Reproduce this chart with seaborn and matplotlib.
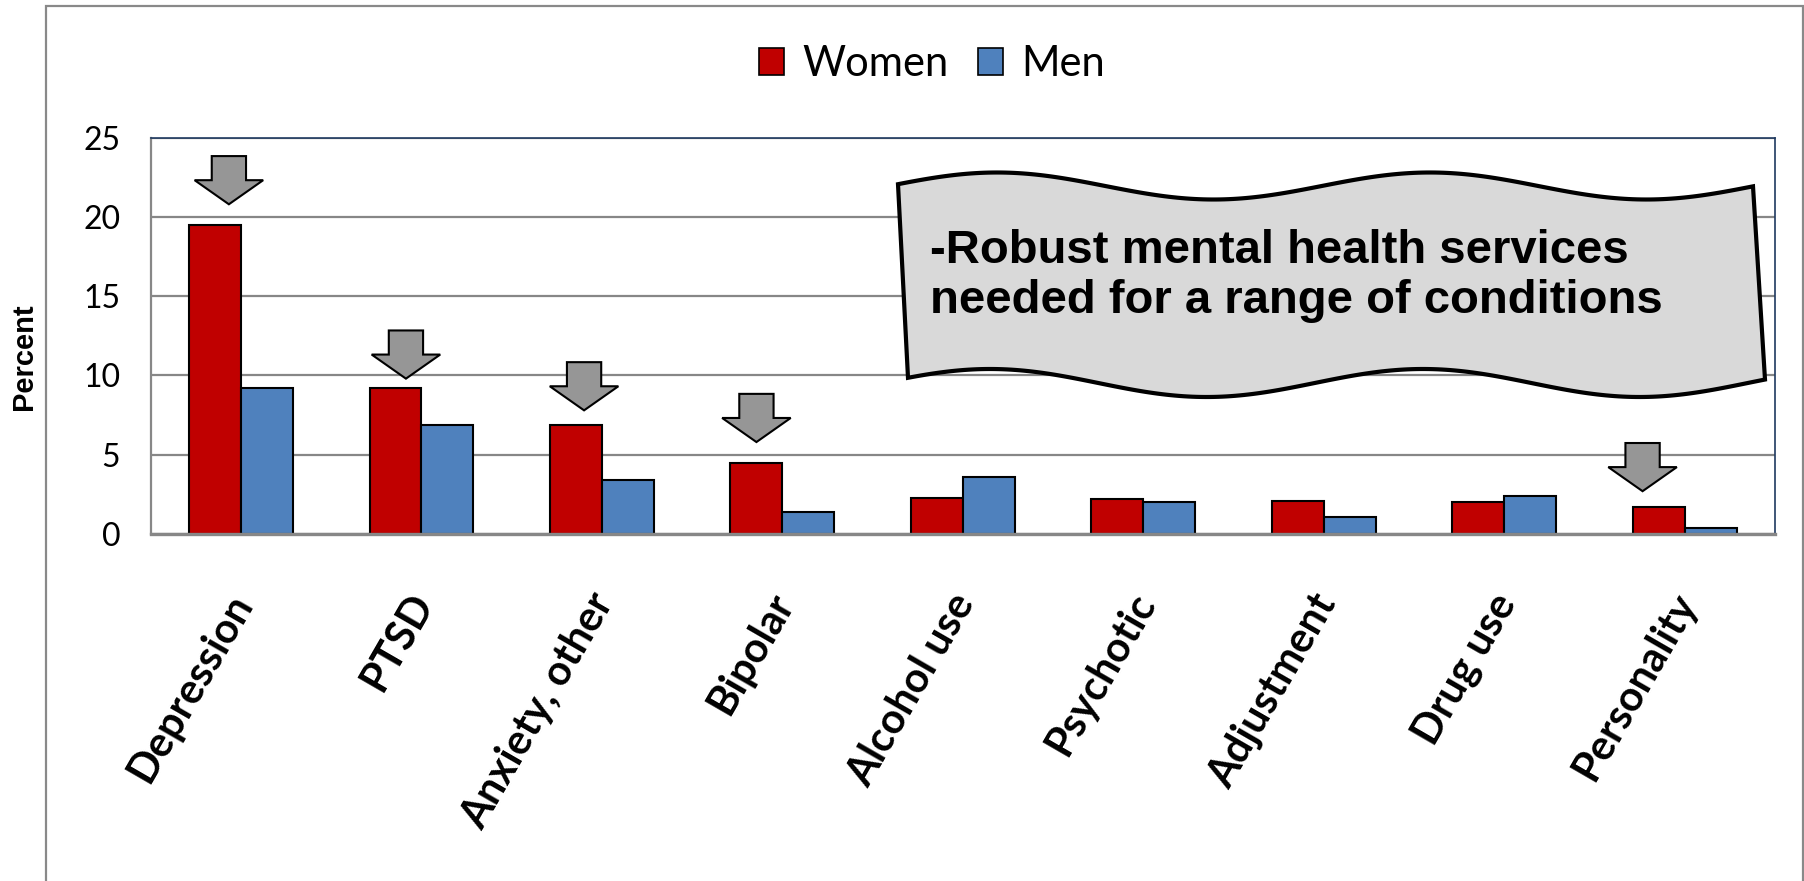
"""
Mental health diagnoses by sex - grouped bar chart with callouts
"""

import numpy as np
import pandas as pd
import matplotlib.pyplot as plt
from matplotlib.patches import Patch, Polygon, Rectangle
from matplotlib.transforms import ScaledTranslation
import seaborn as sns

# Data
conditions = ['Depression', 'PTSD', 'Anxiety, other', 'Bipolar', 'Alcohol use',
              'Psychotic', 'Adjustment', 'Drug use', 'Personality']
women = [19.5, 9.2, 6.9, 4.5, 2.3, 2.2, 2.1, 2.0, 1.7]
men = [9.2, 6.9, 3.4, 1.4, 3.6, 2.0, 1.1, 2.4, 0.4]
highlighted = ['Depression', 'PTSD', 'Anxiety, other', 'Bipolar', 'Personality']
arrow_tips = [20.8, 9.8, 7.8, 5.8, 2.7]
arrow_shift = [0.077, 0.058, 0.045, 0.0, -0.09]  # hand-placed in the original
y_ticks = [0, 5, 10, 15, 20, 25]
callout = '-Robust mental health services\nneeded for a range of conditions'

RED = '#C00000'
BLUE = '#4F81BD'
GRID = '#878787'
NAVY = '#1F3A60'

W, H = 1804, 881


def px(x, y):
    """pixel (top-left origin) -> figure fraction"""
    return x / W, 1 - y / H


df = pd.DataFrame({
    'condition': conditions * 2,
    'percent': women + men,
    'sex': ['Women'] * len(conditions) + ['Men'] * len(conditions),
})

sns.set_style('white')
plt.rcParams['font.family'] = ['Lato', 'DejaVu Sans']
plt.rcParams['text.color'] = 'black'
plt.rcParams['xtick.labelcolor'] = 'black'
plt.rcParams['ytick.labelcolor'] = 'black'

fig = plt.figure(figsize=(W / 100, H / 100), dpi=100)
x0, y1 = px(150.7, 137.7)
x1, y0 = px(1775, 534)
ax = fig.add_axes([x0, y0, x1 - x0, y1 - y0])

sns.barplot(data=df, x='condition', y='percent', hue='sex', order=conditions,
            hue_order=['Women', 'Men'], palette=[RED, BLUE], width=0.575,
            saturation=1, edgecolor='black', linewidth=1.5, legend=False,
            ax=ax, zorder=3)

ax.set_xlim(-0.5, len(conditions) - 0.5)
ax.set_ylim(0, 25)
ax.set_yticks(y_ticks)
ax.set_yticklabels([str(t) for t in y_ticks], fontsize=23)
ax.set_xlabel('')
ax.set_ylabel('')

# gridlines
ax.yaxis.grid(True, color=GRID, linewidth=1.6, zorder=0)
ax.set_axisbelow(True)

# spines
ax.spines['left'].set_color(GRID)
ax.spines['left'].set_linewidth(1.6)
ax.spines['bottom'].set_color(GRID)
ax.spines['bottom'].set_linewidth(2.4)
ax.spines['bottom'].set_zorder(4)
for side in ['top', 'right']:
    ax.spines[side].set_color(NAVY)
    ax.spines[side].set_linewidth(1.2)

ax.tick_params(axis='y', direction='out', length=9, width=1.6, color=GRID, pad=13)

# category labels at centres, tick marks between categories
ax.set_xticks(range(len(conditions)))
ax.set_xticklabels(conditions, rotation=60, ha='right', rotation_mode='anchor',
                   fontsize=30, fontweight='bold')
ax.tick_params(axis='x', which='major', length=0, pad=38)
shift = ScaledTranslation(-14 / 100, 0, fig.dpi_scale_trans)
for lab in ax.get_xticklabels():
    lab.set_transform(lab.get_transform() + shift)
ax.set_xticks(np.arange(-0.5, len(conditions), 1.0), minor=True)
ax.tick_params(axis='x', which='minor', direction='out', length=11, width=1.6,
               color=GRID)

# block arrows above the highlighted conditions
bar_w = 0.575 / 2
for name, tip, dx in zip(highlighted, arrow_tips, arrow_shift):
    cx = conditions.index(name) - bar_w / 2 + dx
    shaft, head = 0.095, 0.19
    seg = 1.52
    pts = [(cx - shaft, tip + 2 * seg), (cx + shaft, tip + 2 * seg),
           (cx + shaft, tip + seg), (cx + head, tip + seg), (cx, tip),
           (cx - head, tip + seg), (cx - shaft, tip + seg)]
    ax.add_patch(Polygon(pts, closed=True, facecolor='#969696',
                         edgecolor='black', linewidth=1.5, zorder=5,
                         clip_on=False))

# wavy callout banner (pixel geometry from the reference)
xs = np.linspace(0, 1, 200)
top_x = 898 + xs * (1753 - 898)
top_y = 186 - 13.5 * np.cos(2 * np.pi * (top_x - 997) / 433)
bot_x = 908 + xs * (1765 - 908)
bot_y = 383 - 14 * np.cos(2 * np.pi * (bot_x - 990) / 433)
outline = [px(x, y) for x, y in zip(top_x, top_y)] + \
          [px(x, y) for x, y in zip(bot_x[::-1], bot_y[::-1])]
fig.add_artist(Polygon(outline, closed=True, facecolor='#D9D9D9',
                       edgecolor='black', linewidth=3, zorder=6,
                       transform=fig.transFigure))
tx, ty = px(930, 276)
fig.text(tx, ty, callout, fontsize=34, fontweight='bold', color='black',
         family=['Liberation Sans', 'DejaVu Sans'], va='center', ha='left',
         linespacing=1.17, zorder=7)

# legend
handles = [Patch(facecolor=RED, edgecolor='black', linewidth=1.2, label='Women'),
           Patch(facecolor=BLUE, edgecolor='black', linewidth=1.2, label='Men')]
lx, ly = px(932, 64)
fig.legend(handles=handles, loc='center', bbox_to_anchor=(lx, ly), ncol=2,
           frameon=False, fontsize=30, handlelength=0.6, handleheight=0.6,
           handletextpad=0.45, columnspacing=0.7)

# y-axis title
tx, ty = px(24, 357)
fig.text(tx, ty, 'Percent', rotation=90, fontsize=21, fontweight='bold',
         family=['Liberation Sans', 'DejaVu Sans'], ha='center', va='center')

# outer chart frame
fx, fy = px(46, 5.5)
fig.add_artist(Rectangle((fx, -0.1), 1 - 0.6 / W - fx, fy + 0.1,
                         transform=fig.transFigure, fill=False,
                         edgecolor='#898989', linewidth=1.6, zorder=1))

plt.savefig('out.png', dpi=100)
plt.close()
